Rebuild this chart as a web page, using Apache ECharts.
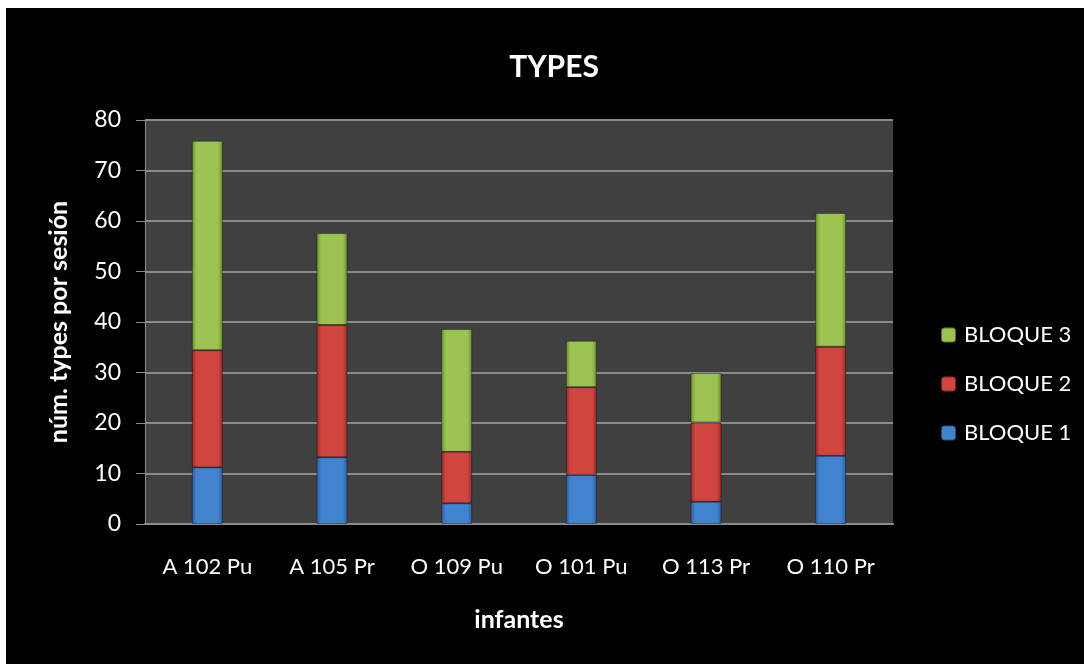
<!DOCTYPE html>
<html><head><meta charset="utf-8">
<script src="https://cdn.jsdelivr.net/npm/echarts@6/dist/echarts.min.js"></script>
<style>html,body{margin:0;padding:0;background:#fff;}#c{width:1084px;height:664px;}</style>
</head><body><div id="c"></div>
<script>
const categories = ['A 102 Pu','A 105 Pr','O 109 Pu','O 101 Pu','O 113 Pr','O 110 Pr'];
const bloque1 = [11.2, 13.2, 4.1, 9.7, 4.4, 13.5];
const bloque2 = [23.2, 26.2, 10.2, 17.4, 15.7, 21.6];
const bloque3 = [41.5, 18.2, 24.3, 9.2, 9.8, 26.5];
const seriesNames = ['BLOQUE 1','BLOQUE 2','BLOQUE 3'];
const legendOrder = ['BLOQUE 3','BLOQUE 2','BLOQUE 1'];

const FONT = 'Lato, "Open Sans", sans-serif';
function grad(dark, light){
  return {type:'linear',x:0,y:0,x2:1,y2:0,colorStops:[
    {offset:0,color:dark},{offset:0.15,color:light},{offset:0.85,color:light},{offset:1,color:dark}]};
}
const colors = [grad('#2c5c96','#4283d0'), grad('#8e2b28','#d14541'), grad('#6a8a30','#9cc252')];
const chart = echarts.init(document.getElementById('c'), null, {renderer:'canvas'});
const datas = [bloque1, bloque2, bloque3];
chart.setOption({
  backgroundColor:'#000',
  animation:false,
  title:{text:'TYPES',left:549,textAlign:'center',top:47,textStyle:{color:'#fff',fontFamily:FONT,fontWeight:'bold',fontSize:30}},
  graphic:[
    {type:'rect',left:0,top:0,shape:{width:1084,height:8},style:{fill:'#fff'}},
    {type:'rect',left:0,top:0,shape:{width:6,height:664},style:{fill:'#fff'}}
  ],
  grid:{left:145,right:191,top:120,bottom:140,show:true,backgroundColor:'#404040',borderWidth:0},
  legend:{orient:'vertical',left:935,top:318,itemWidth:15,itemHeight:15,itemGap:25,
    data:legendOrder,
    textStyle:{color:'#fff',fontFamily:FONT,fontSize:22,lineHeight:24,padding:[0,0,0,3]}},
  xAxis:{type:'category',data:categories,
    name:'infantes',nameLocation:'middle',nameGap:83,
    nameTextStyle:{color:'#fff',fontFamily:FONT,fontWeight:'bold',fontSize:25},
    axisLine:{lineStyle:{color:'#8c8c8c',width:2}},axisTick:{show:false},
    axisLabel:{color:'#fff',fontFamily:FONT,fontSize:22,margin:32,interval:0}},
  yAxis:{type:'value',min:0,max:80,interval:10,
    name:'núm. types por sesión',nameLocation:'middle',nameGap:74,nameRotate:90,
    nameTextStyle:{color:'#fff',fontFamily:FONT,fontWeight:'bold',fontSize:25},
    axisLine:{show:true,lineStyle:{color:'#8c8c8c',width:1}},
    axisTick:{show:true,inside:false,length:9,lineStyle:{color:'#8c8c8c'}},
    splitLine:{lineStyle:{color:'#8a8a8a',width:2}},
    axisLabel:{color:'#fff',fontFamily:FONT,fontSize:23,margin:24}},
  series: seriesNames.map((n,i)=>({
    name:n,type:'bar',stack:'t',data:datas[i],barWidth:31,
    itemStyle:{color:colors[i],borderColor:'rgba(0,0,0,0.35)',borderWidth:1}
  }))
});
</script></body></html>
